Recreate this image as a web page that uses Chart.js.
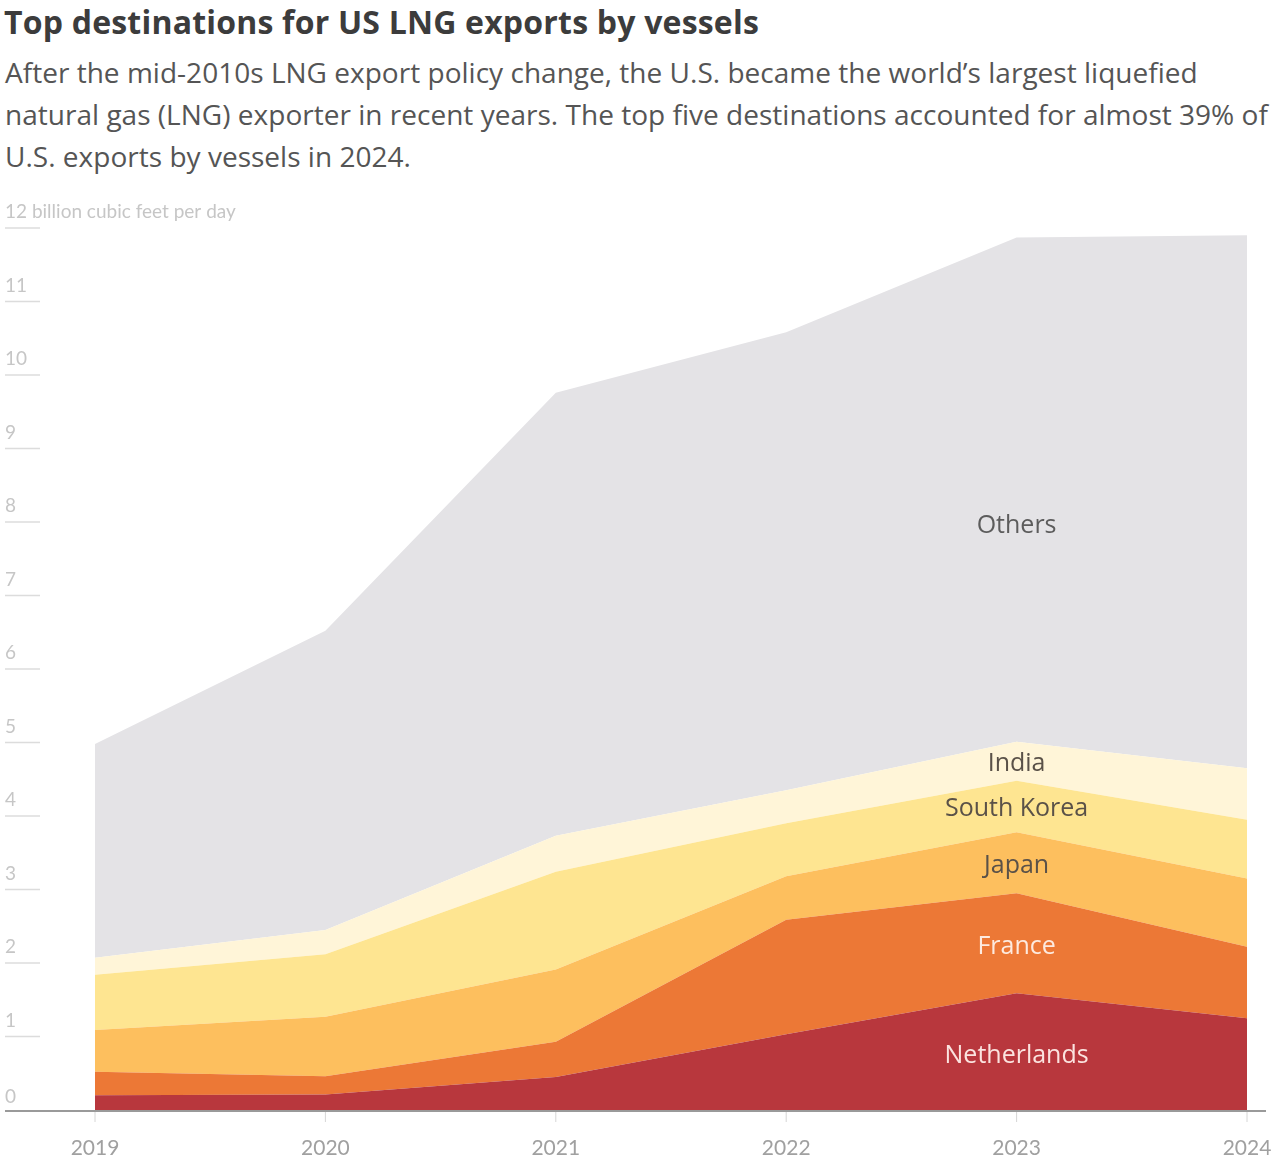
<!DOCTYPE html>
<html>
<head>
<meta charset="utf-8">
<script src="https://cdn.jsdelivr.net/npm/chart.js@4"></script>
<style>
  body { margin: 0; background: #fff; font-family: "Open Sans", Lato, sans-serif; }
  h1 { position: absolute; left: 4px; top: 0px; margin: 0; font-size: 32px; font-weight: 700; color: #3c3c3c; letter-spacing: 0.2px; white-space: nowrap; }
  p.sub { position: absolute; left: 5px; top: 51px; margin: 0; font-size: 28px; line-height: 42px; color: #555; white-space: nowrap; letter-spacing: 0.02px; }
  #wrap { position: absolute; left: 0; top: 190px; width: 1282px; height: 972px; }
</style>
</head>
<body>
<h1>Top destinations for US LNG exports by vessels</h1>
<p class="sub">After the mid-2010s LNG export policy change, the U.S. became the world’s largest liquefied<br>natural gas (LNG) exporter in recent years. The top five destinations accounted for almost 39% of<br>U.S. exports by vessels in 2024.</p>
<div id="wrap"><canvas id="lngChart"></canvas></div>
<script>
// years and values (billion cubic feet per day)
const years = ["2019", "2020", "2021", "2022", "2023", "2024"];
const netherlands = [0.20, 0.21, 0.45, 1.03, 1.59, 1.25];
const france = [0.32, 0.25, 0.48, 1.56, 1.36, 0.97];
const japan = [0.57, 0.81, 0.98, 0.59, 0.83, 0.93];
const southKorea = [0.75, 0.85, 1.33, 0.72, 0.70, 0.80];
const india = [0.23, 0.33, 0.49, 0.45, 0.53, 0.70];
const others = [2.91, 4.07, 6.03, 6.23, 6.86, 7.25];
const yTicks = [0, 1, 2, 3, 4, 5, 6, 7, 8, 9, 10, 11, 12];

const series = [
  { name: "Netherlands", data: netherlands, color: "#b8373d", text: "#fbe3df" },
  { name: "France", data: france, color: "#ec7836", text: "#fdeadf" },
  { name: "Japan", data: japan, color: "#fdbf5e", text: "#5a5148" },
  { name: "South Korea", data: southKorea, color: "#fee591", text: "#5a5148" },
  { name: "India", data: india, color: "#fff5d8", text: "#5a5148" },
  { name: "Others", data: others, color: "#e4e3e6", text: "#5c5c5c" },
];

// y axis labels + short tick lines, the long baseline, and the in-chart labels
const decor = {
  id: "decor",
  afterDatasetsDraw(chart) {
    const ctx = chart.ctx;
    const y = chart.scales.y;
    const x = chart.scales.x;
    ctx.save();
    ctx.textAlign = "left";
    ctx.textBaseline = "alphabetic";
    yTicks.forEach((v) => {
      const py = y.getPixelForValue(v);
      ctx.fillStyle = "#c6c6c6";
      ctx.font = "19px Lato";
      const txt = v === 12 ? "12 billion cubic feet per day" : String(v);
      ctx.fillText(txt, 5, py - (v > 0 ? 10 : 7));
      if (v > 0) {
        ctx.strokeStyle = "#dcdcdc";
        ctx.lineWidth = 1.5;
        ctx.beginPath();
        ctx.moveTo(5, py);
        ctx.lineTo(40, py);
        ctx.stroke();
      }
    });
    // baseline
    const by = y.getPixelForValue(0);
    ctx.strokeStyle = "#9a9a9a";
    ctx.lineWidth = 2;
    ctx.beginPath();
    ctx.moveTo(5, by + 1);
    ctx.lineTo(1266, by + 1);
    ctx.stroke();
    // year tick marks
    ctx.strokeStyle = "#d6d6d6";
    ctx.lineWidth = 1;
    years.forEach((_, i) => {
      const px = x.getPixelForValue(i);
      ctx.beginPath();
      ctx.moveTo(px, by + 2);
      ctx.lineTo(px, by + 12);
      ctx.stroke();
    });
    // series labels at 2023
    const idx = 4;
    const px = x.getPixelForValue(idx);
    let lo = 0;
    ctx.textAlign = "center";
    ctx.textBaseline = "middle";
    ctx.font = "25px 'Open Sans'";
    series.forEach((s) => {
      const hi = lo + s.data[idx];
      const f = s.name === "Others" ? 0.43 : 0.47;
      const v = lo + (hi - lo) * f;
      ctx.fillStyle = s.text;
      ctx.fillText(s.name, px, y.getPixelForValue(v) + 1);
      lo = hi;
    });
    ctx.restore();
  },
};

new Chart(document.getElementById("lngChart"), {
  type: "line",
  data: {
    labels: years,
    datasets: series.map((s, i) => ({
      label: s.name,
      data: s.data,
      backgroundColor: s.color,
      borderColor: s.color,
      borderWidth: 0,
      pointRadius: 0,
      tension: 0,
      fill: i === 0 ? "origin" : "-1",
    })),
  },
  options: {
    responsive: true,
    maintainAspectRatio: false,
    animation: false,
    layout: { padding: { left: 95, right: 35, top: 38, bottom: 0 } },
    plugins: { legend: { display: false }, tooltip: { enabled: false } },
    scales: {
      x: {
        offset: false,
        grid: { display: false },
        border: { display: false },
        ticks: { color: "#a0a0a0", font: { family: "Lato", size: 21 }, padding: 18, maxRotation: 0 },
        afterFit: (scale) => {
          scale.height = 52;
          scale.paddingLeft = 0;
          scale.paddingRight = 0;
        },
      },
      y: {
        display: false,
        stacked: true,
        min: 0,
        max: 12,
      },
    },
  },
  plugins: [decor],
});
</script>
</body>
</html>
